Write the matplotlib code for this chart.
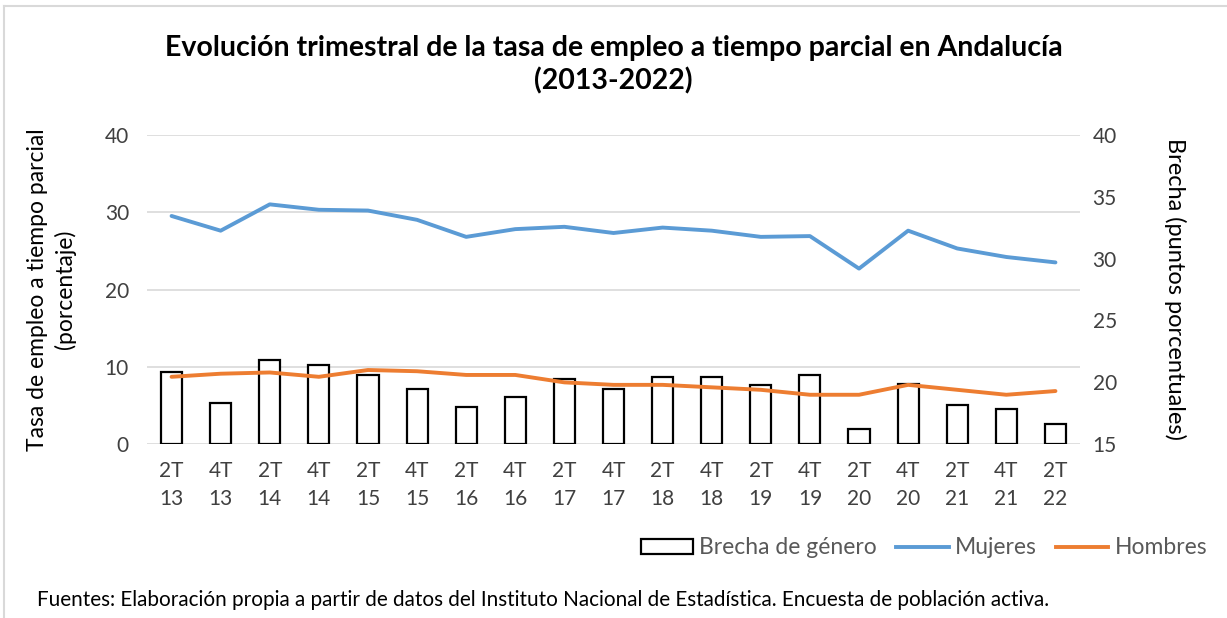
import matplotlib
matplotlib.use("Agg")
from matplotlib import pyplot as plt
from matplotlib.lines import Line2D
from matplotlib.patches import Patch

plt.rcParams["font.family"] = ["Lato", "DejaVu Sans"]

# Quarter labels (2T = second quarter, 4T = fourth quarter)
quarters = ["2T\n13", "4T\n13", "2T\n14", "4T\n14", "2T\n15", "4T\n15", "2T\n16", "4T\n16",
            "2T\n17", "4T\n17", "2T\n18", "4T\n18", "2T\n19", "4T\n19", "2T\n20", "4T\n20",
            "2T\n21", "4T\n21", "2T\n22"]

# Part-time employment rate (%), left axis
mujeres = [29.5, 27.6, 31.0, 30.3, 30.2, 29.0, 26.8, 27.8, 28.1, 27.3,
           28.0, 27.6, 26.8, 26.9, 22.7, 27.6, 25.3, 24.2, 23.5]
# Men, drawn on the right axis
hombres = [20.45, 20.7, 20.8, 20.45, 21.0, 20.9, 20.6, 20.6, 20.0, 19.8,
           19.8, 19.6, 19.4, 19.0, 19.0, 19.8, 19.4, 19.0, 19.3]
# Gender gap (percentage points), left axis bars
brecha = [9.4, 5.4, 10.9, 10.3, 8.9, 7.1, 4.8, 6.1, 8.4, 7.2,
          8.7, 8.7, 7.6, 8.9, 2.0, 7.75, 5.1, 4.6, 2.6]

blue = "#5B9BD5"
orange = "#ED7D31"
tick_col = "#404040"

fig = plt.figure(figsize=(12.27, 6.18), dpi=100)
ax = fig.add_axes([147 / 1227, 1 - 444.3 / 618, (1080 - 147) / 1227, (444.3 - 134.7) / 618])
ax2 = ax.twinx()

x = list(range(len(quarters)))
ax.bar(x, brecha, width=0.43, facecolor="white", edgecolor="black", linewidth=1.6, zorder=2)
ax.plot(x, mujeres, color=blue, linewidth=2.8, zorder=3, solid_capstyle="round")
ax2.plot(x, hombres, color=orange, linewidth=2.8, zorder=3, solid_capstyle="round")

ax.set_xlim(-0.5, len(quarters) - 0.5)
ax.set_ylim(0, 40)
ax.set_yticks([0, 10, 20, 30, 40])
ax2.set_ylim(15, 40)
ax2.set_yticks([15, 20, 25, 30, 35, 40])
ax.set_xticks(x)
ax.set_xticklabels(quarters, linespacing=1.5)

ax.grid(axis="y", color="#D9D9D9", linewidth=1.2, zorder=0)
ax.set_axisbelow(True)
for a in (ax, ax2):
    for s in a.spines.values():
        s.set_visible(False)
    a.tick_params(length=0, labelsize=15, labelcolor=tick_col)
ax.tick_params(axis="y", pad=13)
ax.tick_params(axis="x", pad=12)
ax2.tick_params(axis="y", pad=9)

ax.set_ylabel("Tasa de empleo a tiempo parcial\n(porcentaje)", fontsize=16.5, color="black",
              labelpad=21, linespacing=1.3)
ax2.set_ylabel("Brecha (puntos porcentuales)", fontsize=17, color="black", rotation=270,
               labelpad=50)

fig.text(0.5, 1 - 64.5 / 618, "Evolución trimestral de la tasa de empleo a tiempo parcial en Andalucía\n(2013-2022)",
         ha="center", va="center", fontsize=20.5, fontweight="bold", linespacing=1.3)

handles = [Patch(facecolor="white", edgecolor="black", linewidth=1.6),
           Line2D([], [], color=blue, linewidth=2.8),
           Line2D([], [], color=orange, linewidth=2.8)]
leg = fig.legend(handles, ["Brecha de género", "Mujeres", "Hombres"], ncol=3,
                 loc="center right", bbox_to_anchor=(1207 / 1227, 1 - 548 / 618),
                 frameon=False, fontsize=16.5, handlelength=2.3, handleheight=0.6,
                 handletextpad=0.26, columnspacing=0.83, borderpad=0, borderaxespad=0)
for t in leg.get_texts():
    t.set_color("#595959")

fig.text(37 / 1227, 1 - 600 / 618,
         "Fuentes: Elaboración propia a partir de datos del Instituto Nacional de Estadística. Encuesta de población activa.",
         ha="left", va="center", fontsize=14.85, color="black")

# light frame at top and left, as in the clipped source image
fig.add_artist(Line2D([4 / 1227, 1], [1 - 6 / 618, 1 - 6 / 618], color="#D9D9D9", linewidth=1.5))
fig.add_artist(Line2D([4 / 1227, 4 / 1227], [0, 1 - 6 / 618], color="#D9D9D9", linewidth=1.5))

fig.savefig("out.png", dpi=100)
